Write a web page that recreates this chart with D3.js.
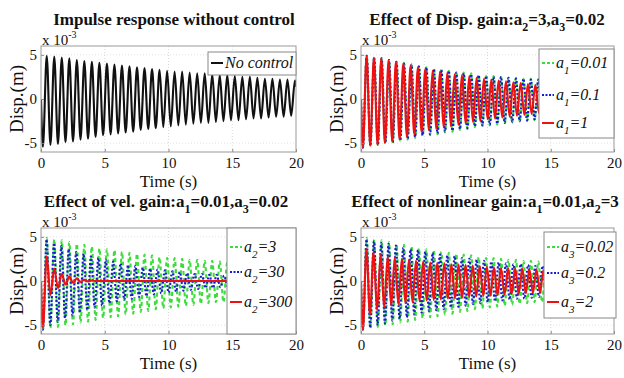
<!DOCTYPE html>
<html>
<head>
<meta charset="utf-8">
<script src="https://cdn.jsdelivr.net/npm/d3@7"></script>
<style>
  body { margin: 0; background: #fff; }
  svg text { font-family: "Liberation Serif", "Times New Roman", serif; fill: #111; }
</style>
</head>
<body>
<script>

// three sets because some curves drift in phase against the others
var timeA = [0, 0.15,0.45,0.74,1.04,1.33,1.63,1.92,2.22,2.51,2.81,3.1,3.4,3.69,3.99,4.28,4.58,4.87,5.17,5.46,5.76,
  6.05,6.35,6.64,6.94,7.23,7.53,7.82,8.12,8.41,8.71,9,9.3,9.59,9.89,10.18,10.48,10.77,11.07,11.36,11.66,11.95,12.25,
  12.54,12.84,13.13,13.43,13.72,14.02,14.31,14.61,14.9,15.2,15.49,15.79,16.08,16.38,16.67,16.97,17.26,17.56,17.85,
  18.15,18.44,18.74,19.03,19.33,19.62,19.92, 20];
var timeB = [0, 0.15,0.44,0.73,1.02,1.31,1.6,1.89,2.18,2.47,2.76,3.05,3.34,3.63,3.92,4.21,4.5,4.79,5.08,5.37,5.66,
  5.95,6.24,6.53,6.82,7.11,7.4,7.69,7.98,8.27,8.56,8.85,9.14,9.43,9.72,10.01,10.3,10.59,10.88,11.17,11.46,11.75,12.04,
  12.33,12.62,12.91,13.2,13.49,13.78,14.07,14.36,14.65,14.94,15.23,15.52,15.81,16.1,16.39,16.68,16.97,17.26,17.55,
  17.84,18.13,18.42,18.71,19,19.29,19.58,19.87, 20];
var timeC = [0, 0.15,0.43,0.71,0.99,1.27,1.55,1.83,2.11,2.39,2.67,2.95,3.23,3.51,3.79,4.07,4.35,4.63,4.91,5.19,5.47,
  5.75,6.03,6.31,6.59,6.87,7.15,7.43,7.71,7.99,8.27,8.55,8.83,9.11,9.39,9.67,9.95,10.23,10.51,10.79,11.07,11.35,11.63,
  11.91,12.19,12.47,12.75,13.03,13.31,13.59,13.87,14.15,14.43,14.71,14.99,15.27,15.55,15.83,16.11,16.39,16.67,16.95,
  17.23,17.51,17.79,18.07,18.35,18.63,18.91,19.19,19.47,19.75, 20];

// displacement at those times, in units of 1e-3 m
var noControl = [0, -5.4,4.9, -5.2,4.8, -5.1,4.7, -4.9,4.6, -4.8,4.4, -4.6,4.3, -4.5,4.2, -4.3,4.1, -4.1,4.0, -4.0,3.9,
  -3.9,3.8, -3.8,3.7, -3.7,3.6, -3.5,3.5, -3.4,3.4, -3.3,3.3, -3.2,3.2, -3.1,3.1, -3.0,3.1, -2.9,3.0, -2.8,2.9, -2.7,2.9,
  -2.7,2.8, -2.6,2.7, -2.5,2.7, -2.4,2.6, -2.4,2.5, -2.3,2.5, -2.2,2.4, -2.2,2.3, -2.1,2.3, -2.0,2.2, -2.0,2.2, -1.9,2.1, 1.4];
// a1=0.01, a2=3, a3=0.02 (same case in three panels)
var baseGain = [0, -5.5,4.9, -5.3,4.7, -5.2,4.6, -5.0,4.4, -4.9,4.2, -4.7,4.1, -4.6,3.9, -4.4,3.7, -4.2,3.6, -4.1,3.5,
  -4.0,3.3, -3.8,3.2, -3.7,3.1, -3.5,3.0, -3.4,2.9, -3.2,2.7, -3.1,2.6, -3.0,2.6, -2.9,2.5, -2.8,2.4, -2.7,2.4, -2.6,2.3,
  -2.5,2.3, -2.4,2.2, -2.4,2.1, -2.3,2.1, -2.3,2.0, -2.2,2.0, -2.1,1.9, -2.1,1.8, -2.0,1.8, -2.0,1.7, -1.9,1.7, -1.8,1.6, 1.1];
var dispGain01 = [0, -5.5,4.9, -5.3,4.7, -5.2,4.6, -5.0,4.4, -4.9,4.2, -4.7,4.0, -4.5,3.9, -4.3,3.7, -4.1,3.6, -4.0,3.4,
  -3.9,3.3, -3.7,3.2, -3.6,3.0, -3.4,2.9, -3.3,2.8, -3.1,2.7, -3.0,2.6, -2.9,2.5, -2.8,2.5, -2.7,2.4, -2.6,2.3, -2.5,2.3,
  -2.4,2.2, -2.3,2.2, -2.3,2.1, -2.2,2.0, -2.2,2.0, -2.1,1.9, -2.0,1.9, -2.0,1.8, -1.9,1.7, -1.9,1.7, -1.8,1.6, -1.7,1.6, 1.1];
var dispGain1 = [0, -5.5,4.9, -5.3,4.7, -5.2,4.6, -5.0,4.4, -4.8,4.2, -4.6,4.0, -4.3,3.8, -4.0,3.6, -3.7,3.4, -3.5,3.2,
  -3.4,3.1, -3.2,3.0, -3.1,2.8, -2.9,2.7, -2.8,2.6, -2.6,2.4, -2.5,2.3, -2.3,2.2, -2.2,2.1, -2.1,2.0, -2.0,1.9, -1.9,1.8,
  -1.8,1.7, -1.7,1.6, -1.6,1.6, -1.5,1.5, -1.5,1.5, -1.4,1.4, -1.4,1.3, -1.3,1.3, -1.2,1.2, -1.2,1.2, -1.1,1.1, -1.1,1.0,
  -1.0, -0.2];
var velGain30 = [0, -5.5,4.7, -5.0,4.3, -4.6,4.0, -4.2,3.6, -3.9,3.3, -3.6,3.1, -3.3,2.8, -3.0,2.6, -2.8,2.4, -2.5,2.2,
  -2.3,2.0, -2.1,1.8, -2.0,1.7, -1.8,1.5, -1.7,1.4, -1.5,1.3, -1.4,1.2, -1.3,1.1, -1.2,1.0, -1.1,0.9, -1.0,0.8, -0.9,0.8,
  -0.8,0.7, -0.8,0.7, -0.7,0.6, -0.6,0.6, -0.6,0.5, -0.5,0.5, -0.5,0.4, -0.5,0.4, -0.4,0.4, -0.4,0.3, -0.4,0.3, -0.3,0.3,
  -0.3, -0.05];
var velGain300 = [0, -5.3,2.8, -1.6,1.4, -0.8,0.8, -0.4,0.5, -0.2,0.3, -0.1,0.15, -0.05,0.05,
  0,0,0,0,0,0,0,0,0,0, 0,0,0,0,0,0,0,0,0,0, 0,0,0,0,0,0,0,0,0,0, 0,0,0,0,0,0,0,0,0,0, 0,0,0,0,0,0,0,0,0,0, 0,0,0,0,0];
var nlGain02 = [0, -5.5,4.7, -5.3,4.5, -5.0,4.3, -4.8,4.2, -4.5,4.0, -4.3,3.8, -4.1,3.6, -3.8,3.5, -3.6,3.3, -3.4,3.2,
  -3.3,3.0, -3.2,2.9, -3.0,2.8, -2.9,2.6, -2.8,2.5, -2.6,2.4, -2.5,2.3, -2.4,2.2, -2.3,2.1, -2.2,2.0, -2.1,1.9, -2.0,1.9,
  -2.0,1.8, -1.9,1.7, -1.8,1.7, -1.8,1.6, -1.7,1.6, -1.7,1.5, -1.6,1.5, -1.6,1.4, -1.5,1.4, -1.5,1.3, -1.4,1.3, -1.4,1.2,
  -1.3, -0.2];
var nlGain2 = [0, -5.5,3.6, -3.8,3.3, -3.3,3.0, -3.0,2.8, -2.8,2.65, -2.6,2.5, -2.5,2.4, -2.4,2.3, -2.3,2.2, -2.2,2.1,
  -2.15,2.05, -2.1,2.0, -2.0,1.9, -1.95,1.85, -1.9,1.8, -1.8,1.75, -1.75,1.7, -1.7,1.6, -1.65,1.55, -1.6,1.5, -1.55,1.45,
  -1.5,1.4, -1.45,1.4, -1.4,1.35, -1.35,1.3, -1.3,1.25, -1.3,1.2, -1.25,1.2, -1.2,1.15, -1.2,1.1, -1.15,1.1, -1.1,1.05,
  -1.1,1.0, -1.05,1.0, -1.0,0.95, -1.0, 0.9];

var xTicks = [0, 5, 10, 15, 20];
var yTicks = [-5, 0, 5];

// text pieces: [text, isSubscript]
var titleTL = [["Impulse response without control"]];
var titleTR = [["Effect of Disp. gain:a"], ["2", 1], ["=3,a"], ["3", 1], ["=0.02"]];
var titleBL = [["Effect of vel. gain:a"], ["1", 1], ["=0.01,a"], ["3", 1], ["=0.02"]];
var titleBR = [["Effect of nonlinear gain:a"], ["1", 1], ["=0.01,a"], ["2", 1], ["=3"]];

var green = "#3ddc3d", blue = "#1a1ad0", red = "#ee1111", black = "#111";
var serif = "'Liberation Serif', 'Times New Roman', serif";

var panels = [
  { c: 0, r: 0, title: titleTL, tx: 174,
    curves: [{ t: timeA, v: noControl, color: black, dash: null }],
    legend: { x: 208, y: 52, w: 88, h: 23, rows: [11],
      items: [{ color: black, dash: null, label: [["No control"]] }] } },
  { c: 1, r: 0, title: titleTR, tx: 487,
    curves: [{ t: timeA, v: baseGain, color: green, dash: "4,3" },
             { t: timeA, v: dispGain01, color: blue, dash: "2,2" },
             { t: timeB, v: dispGain1, color: red, dash: null }],
    legend: { x: 539, y: 49, w: 75, h: 89, rows: [14, 46, 74],
      items: [{ color: green, dash: "3,2", label: [["a"], ["1", 1], ["=0.01"]] },
              { color: blue, dash: "2,1.5", label: [["a"], ["1", 1], ["=0.1"]] },
              { color: red, dash: null, label: [["a"], ["1", 1], ["=1"]] }] } },
  { c: 0, r: 1, title: titleBL, tx: 166,
    curves: [{ t: timeA, v: baseGain, color: green, dash: "4,3" },
             { t: timeB, v: velGain30, color: blue, dash: "2,2" },
             { t: timeA, v: velGain300, color: red, dash: null }],
    legend: { x: 227, y: 228, w: 69, h: 106, rows: [19, 44, 74],
      items: [{ color: green, dash: "3,2", label: [["a"], ["2", 1], ["=3"]] },
              { color: blue, dash: "2,1.5", label: [["a"], ["2", 1], ["=30"]] },
              { color: red, dash: null, label: [["a"], ["2", 1], ["=300"]] }] } },
  { c: 1, r: 1, title: titleBR, tx: 485,
    curves: [{ t: timeA, v: baseGain, color: green, dash: "4,3" },
             { t: timeB, v: nlGain02, color: blue, dash: "2,2" },
             { t: timeC, v: nlGain2, color: red, dash: null }],
    legend: { x: 544, y: 232, w: 72, h: 86, rows: [15, 41, 70],
      items: [{ color: green, dash: "3,2", label: [["a"], ["3", 1], ["=0.02"]] },
              { color: blue, dash: "2,1.5", label: [["a"], ["3", 1], ["=0.2"]] },
              { color: red, dash: null, label: [["a"], ["3", 1], ["=2"]] }] } }
];

var cols = [[41, 296], [361, 614]];
var rows = [[46, 152], [228, 334]];

var svg = d3.select("body").append("svg")
    .attr("width", 624)
    .attr("height", 378)
    .style("font-family", serif);

function richText(el, pieces, subSize, shift) {
  pieces.forEach(function(p, i) {
    var ts = el.append("tspan").text(p[0]);
    if (p[1]) ts.attr("dy", shift).attr("font-size", subSize);
    else if (i > 0 && pieces[i - 1][1]) ts.attr("dy", -shift);
  });
}

panels.forEach(function(p, pi) {
  var left = cols[p.c][0], right = cols[p.c][1];
  var top = rows[p.r][0], bottom = rows[p.r][1];

  var x = d3.scaleLinear().domain([0, 20]).range([left, right]);
  var y = d3.scaleLinear().domain([-6, 6]).range([bottom, top]);

  var g = svg.append("g");

  g.append("clipPath").attr("id", "clip" + pi)
    .append("rect").attr("x", left).attr("y", top)
    .attr("width", right - left).attr("height", bottom - top);

  // grid
  g.selectAll(".gx").data(xTicks.slice(1, -1)).enter().append("line")
    .attr("x1", x).attr("x2", x).attr("y1", top).attr("y2", bottom)
    .attr("stroke", "#d8d8d8").attr("stroke-dasharray", "1,2");
  g.selectAll(".gy").data(yTicks).enter().append("line")
    .attr("y1", y).attr("y2", y).attr("x1", left).attr("x2", right)
    .attr("stroke", "#e2e2e2").attr("stroke-dasharray", "1,2");

  var line = d3.line()
    .x(function(d) { return x(d[0]); })
    .y(function(d) { return y(d[1]); })
    .curve(d3.curveMonotoneX);

  p.curves.forEach(function(c) {
    var pts = c.v.map(function(v, i) { return [c.t[i], v]; })
      .filter(function(d) { return d[0] !== undefined; });
    g.append("path").datum(pts)
      .attr("clip-path", "url(#clip" + pi + ")")
      .attr("d", line)
      .attr("fill", "none")
      .attr("stroke", c.color)
      .attr("stroke-width", 2.1)
      .attr("stroke-dasharray", c.dash);
  });

  // axes, ticks pointing inward
  function styleAxis(a) {
    a.attr("font-family", serif).attr("font-size", 15);
    a.select(".domain").remove();
    a.selectAll("line").attr("stroke", "#888");
    a.selectAll("text").style("font-family", serif).attr("fill", "#111");
  }
  g.append("g").attr("transform", "translate(0," + bottom + ")")
    .call(d3.axisBottom(x).tickValues(xTicks).tickSize(-3).tickPadding(5))
    .call(styleAxis);
  g.append("g").attr("transform", "translate(" + left + ",0)")
    .call(d3.axisLeft(y).tickValues(yTicks).tickSize(-3).tickPadding(4)
      .tickFormat(function(d) { return d < 0 ? "-" + Math.abs(d) : d; }))
    .call(styleAxis);

  g.append("rect")
    .attr("x", left).attr("y", top)
    .attr("width", right - left).attr("height", bottom - top)
    .attr("fill", "none").attr("stroke", "#999");

  // legend
  var L = p.legend;
  var lg = g.append("g").attr("transform", "translate(" + L.x + "," + L.y + ")");
  lg.append("rect").attr("width", L.w).attr("height", L.h)
    .attr("fill", "#fff").attr("stroke", "#888");
  L.items.forEach(function(it, i) {
    var ry = L.rows[i];
    lg.append("line").attr("x1", 3).attr("x2", 15).attr("y1", ry).attr("y2", ry)
      .attr("stroke", it.color).attr("stroke-width", 2)
      .attr("stroke-dasharray", it.dash);
    var t = lg.append("text").attr("x", 17).attr("y", ry + 5)
      .attr("font-size", 16).attr("font-style", "italic")
      .style("font-family", serif);
    richText(t, it.label, 11, 6);
  });

  // labels
  var tt = g.append("text").attr("x", p.tx).attr("y", top - 21)
    .attr("text-anchor", "middle").attr("font-size", 17).attr("font-weight", "bold")
    .style("font-family", serif);
  richText(tt, p.title, 12, 6);

  var ex = g.append("text").attr("x", left + 1).attr("y", top - 1)
    .attr("font-size", 15).style("font-family", serif);
  ex.append("tspan").text("x 10");
  ex.append("tspan").text("-3").attr("font-size", 10).attr("dy", -7);

  g.append("text")
    .attr("transform", "translate(" + (left - 18) + "," + (top + bottom) / 2 + ") rotate(-90)")
    .attr("text-anchor", "middle").attr("font-size", 19)
    .style("font-family", serif)
    .text("Disp.(m)");

  g.append("text").attr("x", (left + right) / 2).attr("y", bottom + 35)
    .attr("text-anchor", "middle").attr("font-size", 17)
    .style("font-family", serif)
    .text("Time (s)");
});

</script>
</body>
</html>
